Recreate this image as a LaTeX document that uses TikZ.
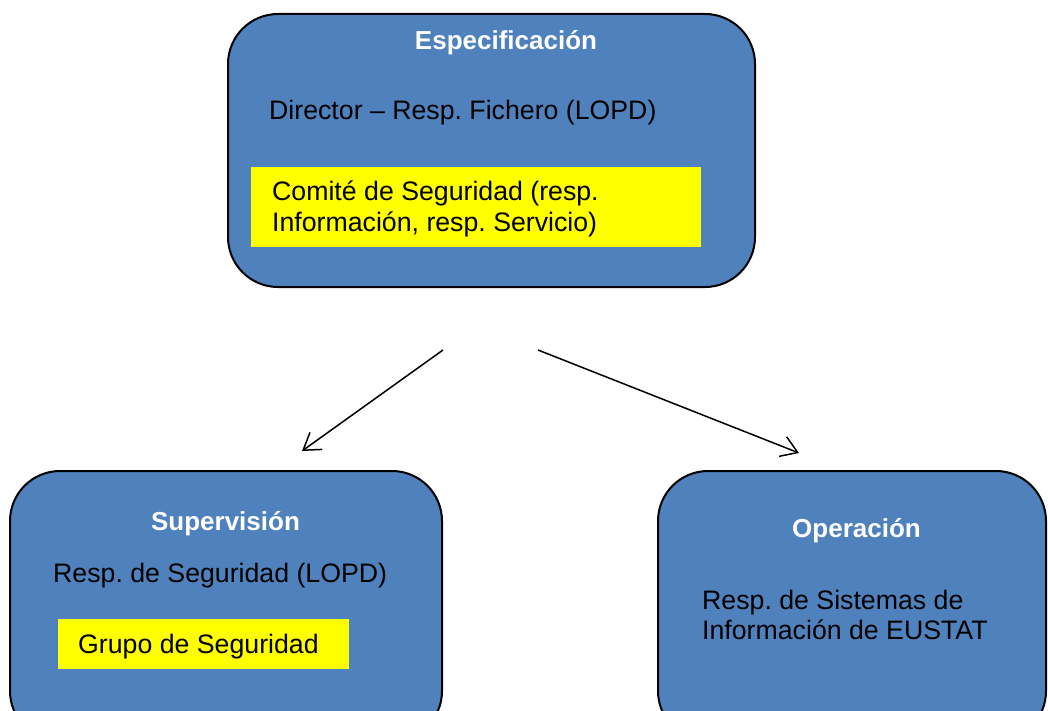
\documentclass[tikz,border=0pt]{standalone}
\usepackage{fontspec}
\setmainfont{Liberation Sans}
\frenchspacing
\usetikzlibrary{arrows.meta}
\definecolor{boxblue}{RGB}{79,129,189}
\definecolor{hiyellow}{RGB}{255,255,0}
\tikzset{
  bluebox/.style={draw=black, line width=2pt, fill=boxblue, rounded corners=50pt, inner sep=0pt},
  yellowbox/.style={fill=hiyellow, draw=none, inner sep=0pt},
  title/.style={inner sep=0pt, anchor=base, text=white, font=\fontsize{26}{30}\selectfont\bfseries},
  body/.style={inner sep=0pt, anchor=base west, text=black, align=left, font=\fontsize{26.7}{30}\selectfont},
  conn/.style={line width=1.5pt, -{Straight Barb[length=16pt,width=21pt]}}
}
\begin{document}
\begin{tikzpicture}[x=1pt,y=-1pt]
\useasboundingbox (0,0) rectangle (1048,711);
\clip (0,0) rectangle (1048,711);
\fill[white] (0,0) rectangle (1048,711);
% top box
\node[bluebox, minimum width=527pt, minimum height=273pt] (spec) at (491.5,150.5) {};
\node[yellowbox, minimum width=450pt, minimum height=80pt] (comiteBg) at (476,207) {};
\node[title] (specT) at (506,50) {Especificación};
\node[body] (director) at (269,120) {Director – Resp. Fichero (LOPD)};
\node[body] (comite) at (272,231) {Comité de Seguridad (resp.\\Información, resp. Servicio)};
% left box
\node[bluebox, minimum width=432pt, minimum height=270pt] (sup) at (226,606) {};
\node[yellowbox, minimum width=291pt, minimum height=50pt] (grupoBg) at (203.5,644) {};
\node[title] (supT) at (225.5,530) {Supervisión};
\node[body] (respseg) at (53,582) {Resp. de Seguridad (LOPD)};
\node[body] (grupo) at (78,653) {Grupo de Seguridad};
% right box
\node[bluebox, minimum width=388pt, minimum height=270pt] (op) at (852,606) {};
\node[title] (opT) at (856.5,537) {Operación};
\node[body] (sis) at (702,639) {Resp. de Sistemas de\\Información de EUSTAT};
% connectors
\coordinate (a1s) at (443,350);
\coordinate (a1e) at (302,451);
\coordinate (a2s) at (538,350);
\coordinate (a2e) at (799,453);
\draw[conn] (a1s) -- (a1e);
\draw[conn] (a2s) -- (a2e);
\end{tikzpicture}
\end{document}
